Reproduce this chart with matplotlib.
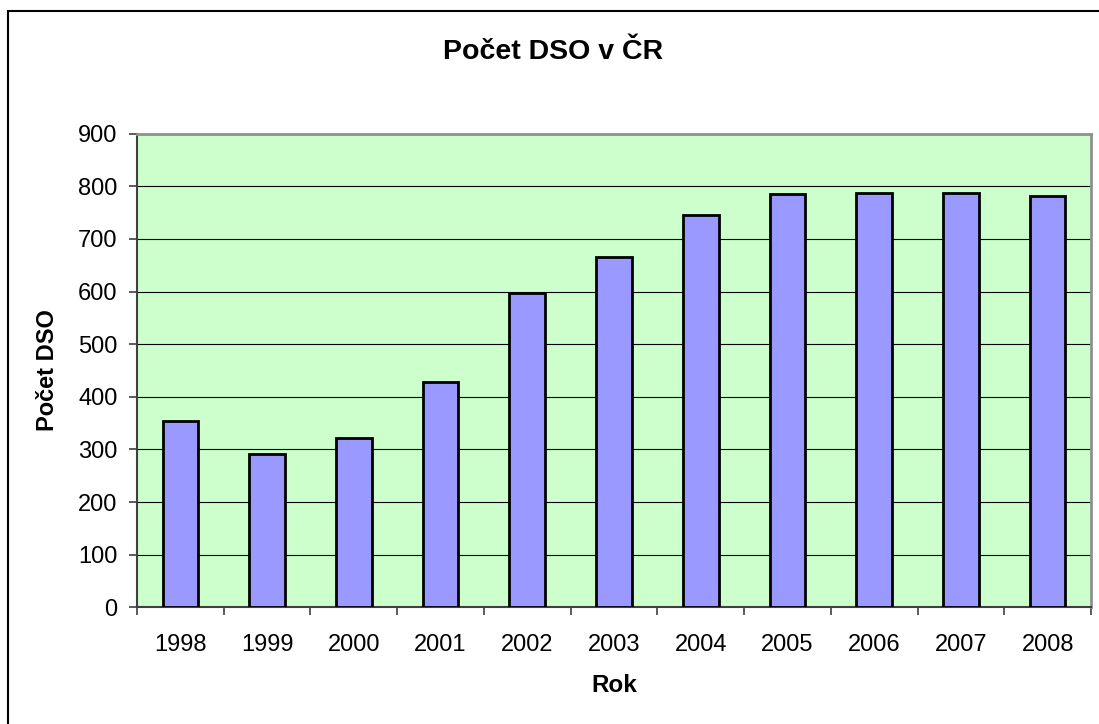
import matplotlib
matplotlib.use("Agg")
import matplotlib.pyplot as plt
from matplotlib.patches import Rectangle
import numpy as np

years = ["1998", "1999", "2000", "2001", "2002", "2003", "2004", "2005", "2006", "2007", "2008"]
counts = [354, 291, 321, 428, 598, 665, 746, 785, 788, 787, 781]
yticks = [0, 100, 200, 300, 400, 500, 600, 700, 800, 900]

plt.rcParams['font.family'] = ['Liberation Sans', 'DejaVu Sans']

W, H = 1099, 724
fig = plt.figure(figsize=(W / 100, H / 100), dpi=100)

# outer chart border
fig.patches.append(Rectangle((8 / W, -0.05), 1.2, 1 + 0.05 - 11 / H, transform=fig.transFigure,
                             fill=False, edgecolor='black', linewidth=1.5))

ax = fig.add_axes([137 / W, 1 - 607.3 / H, (1091 - 137) / W, (607.3 - 133.7) / H])
ax.set_facecolor('#CCFFCC')

x = np.arange(len(years))
ax.bar(x, counts, width=0.41, color='#9999FF', edgecolor='black', linewidth=2, zorder=3)

ax.set_xlim(-0.5, len(years) - 0.5)
ax.set_ylim(0, 900)
ax.set_yticks(yticks)
ax.set_yticklabels([str(v) for v in yticks])
ax.yaxis.grid(True, color='black', linewidth=0.8, zorder=1)
ax.set_axisbelow(True)

ax.set_xticks(x)
ax.set_xticklabels(years)
ax.set_xticks(np.arange(-0.5, len(years)), minor=True)
ax.tick_params(axis='x', which='major', length=0, pad=19, labelsize=17)
ax.tick_params(axis='x', which='minor', length=6, width=1.2, color='#404040', direction='out')
ax.tick_params(axis='y', which='major', length=6, width=1.2, color='#404040', pad=8, labelsize=17)

for s in ['top', 'right']:
    ax.spines[s].set_color('#909090')
    ax.spines[s].set_linewidth(2)
for s in ['left', 'bottom']:
    ax.spines[s].set_color('#404040')
    ax.spines[s].set_linewidth(1.5)

ax.set_xlabel('Rok', fontsize=17.5, fontweight='bold', labelpad=13)
ax.set_ylabel('Počet DSO', fontsize=17, fontweight='bold', labelpad=14)
fig.text(0.5 * (8 + W) / W, 1 - 52 / H, 'Počet DSO v ČR', ha='center', va='center',
         fontsize=20.5, fontweight='bold')

fig.savefig('out.png', dpi=100)
